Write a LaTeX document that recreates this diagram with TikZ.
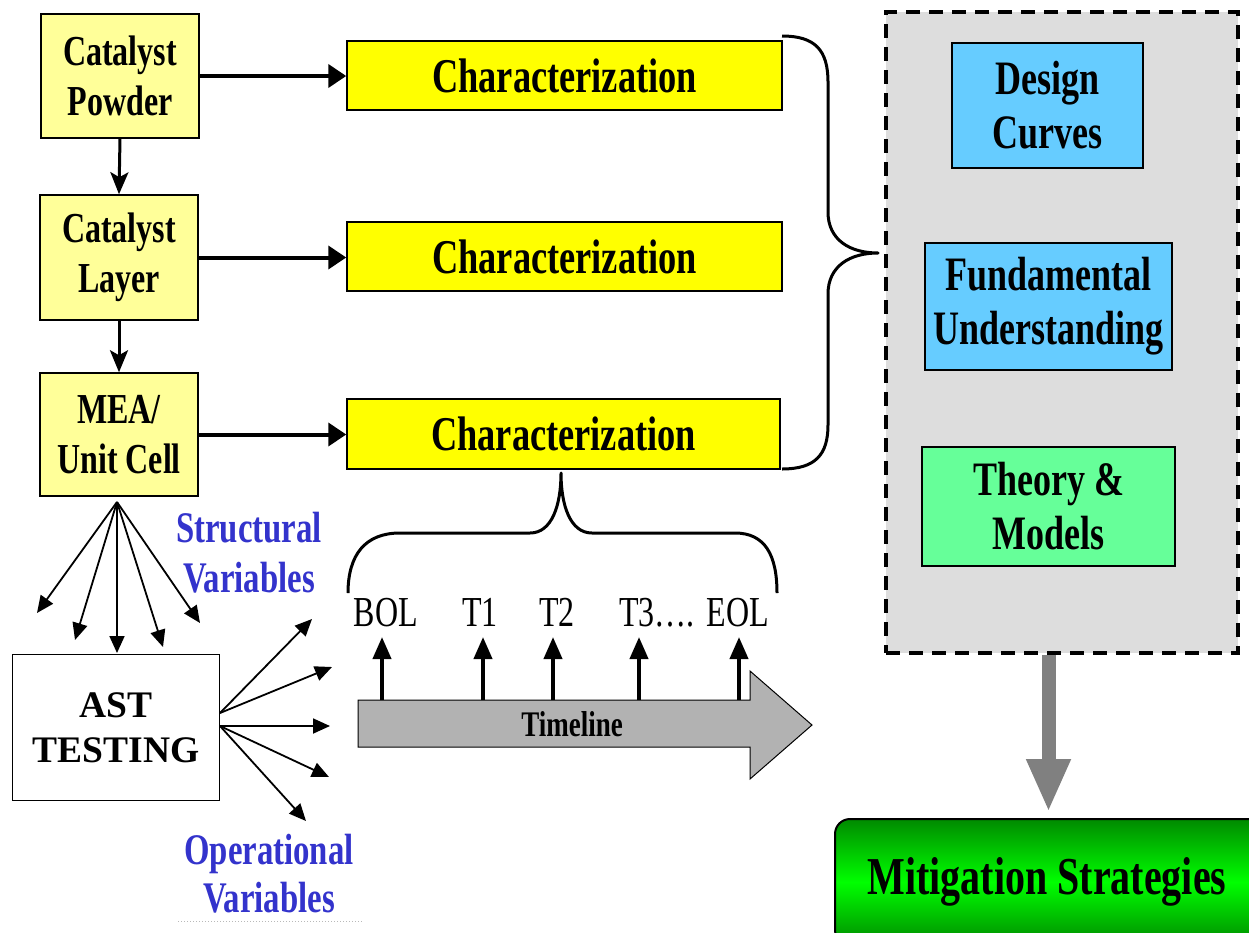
\documentclass[tikz,border=0pt]{standalone}
\usepackage{fontspec}
\setmainfont{Liberation Serif}
\newfontfamily\narrow[FakeStretch=0.75]{Liberation Serif}
\usetikzlibrary{arrows.meta,calc}
\definecolor{paleyellow}{HTML}{FFFF99}
\definecolor{chary}{HTML}{FFFF00}
\definecolor{panelgray}{HTML}{DDDDDD}
\definecolor{skyblue}{HTML}{66CCFF}
\definecolor{mint}{HTML}{66FF99}
\definecolor{timegray}{HTML}{B2B2B2}
\definecolor{bigarrow}{HTML}{808080}
\definecolor{varblue}{HTML}{3333CC}
\definecolor{mdark}{HTML}{008A00}
\definecolor{mbright}{HTML}{00FF00}
\begin{document}
\begin{tikzpicture}[x=1pt,y=-1pt,
  srcbox/.style={draw=black, line width=1.5pt, fill=paleyellow, inner sep=0pt,
    align=center, font=\narrow\bfseries\fontsize{42.7}{50}\selectfont},
  charbox/.style={draw=black, line width=1.5pt, fill=chary, inner sep=0pt,
    minimum width=435pt, minimum height=69pt,
    font=\narrow\bfseries\fontsize{48.5}{54}\selectfont},
  resbox/.style={draw=black, line width=1.5pt, inner sep=0pt, align=center,
    font=\narrow\bfseries\fontsize{48}{54}\selectfont},
  varlabel/.style={text=varblue, align=center,
    font=\narrow\bfseries\fontsize{43.7}{50}\selectfont},
  tlabel/.style={anchor=south, inner sep=0pt, text depth=10pt,
    font=\narrow\fontsize{42.7}{48}\selectfont},
  mainarrow/.style={line width=4pt, -{Triangle[length=18pt,width=23pt]}},
  downarrow/.style={line width=3pt, -{Stealth[length=22pt,width=18pt,inset=5pt]}},
  fanarrow/.style={line width=1.8pt, -{Triangle[length=17pt,width=15pt]}},
  uparrow/.style={line width=4pt, -{Triangle[length=22pt,width=18pt]}},
  brace/.style={line width=3pt, line join=round}
]
\useasboundingbox (0,0) rectangle (1249,932);

% sample stages
\node[srcbox, minimum width=158pt, minimum height=124pt] (powder) at (120,76) {Catalyst\\Powder};
\node[srcbox, minimum width=158pt, minimum height=125pt] (layer) at (119,257.5) {Catalyst\\Layer};
\node[srcbox, minimum width=158pt, minimum height=123pt] (mea) at (119,434.5) {MEA/\\Unit Cell};

% characterization boxes
\node[charbox] (c1) at (564.5,75.5) {Characterization};
\node[charbox] (c2) at (564.5,256.5) {Characterization};
\node[charbox, minimum width=433pt, minimum height=70pt] (c3) at (563.5,434) {Characterization};

\draw[downarrow] (powder.south) -- (layer.north);
\draw[downarrow] (layer.south) -- (mea.north);
\draw[mainarrow] (powder.east) -- (powder.east -| c1.west);
\draw[mainarrow] (layer.east) -- (layer.east -| c2.west);
\draw[mainarrow] (mea.east) -- (mea.east -| c3.west);

% results panel
\node[draw=black, line width=3.5pt, dash pattern=on 14pt off 9pt, fill=panelgray,
  minimum width=352pt, minimum height=641pt, inner sep=0pt] (panel) at (1062,332.5) {};
\node[resbox, fill=skyblue, minimum width=191pt, minimum height=125pt] (design) at (1047.5,105.5) {Design\\Curves};
\node[resbox, fill=skyblue, minimum width=247pt, minimum height=127pt] (fund) at (1048.5,306.5) {Fundamental\\Understanding};
\node[resbox, fill=mint, minimum width=253pt, minimum height=119pt] (theory) at (1048.5,506.5) {Theory \&\\Models};

% brace gathering the three characterizations
\draw[brace] (782,36) .. controls (815,36) and (828,50) .. (828,82) -- (828,212)
  .. controls (828,240) and (850,253) .. (878,253)
  .. controls (850,253) and (828,266) .. (828,294) -- (828,425)
  .. controls (828,455) and (815,469) .. (782,469);

% mitigation
\node[draw=black, line width=2pt, rounded corners=15pt, top color=mdark, bottom color=mdark,
  middle color=mbright, minimum width=430pt, minimum height=126pt, inner sep=0pt,
  font=\narrow\bfseries\fontsize{53.3}{60}\selectfont] (mit) at (1050,882)
  {\hspace*{-6pt}Mitigation Strategies};
\draw[line width=14pt, draw=bigarrow, shorten >=6pt,
  -{Triangle[length=53pt,width=41pt]}] ([xshift=-13.5pt]panel.south) -- ([xshift=-13.5pt]panel.south |- mit.north);

% accelerated stress testing
\node[draw=black, line width=1.5pt, fill=white, minimum width=207pt, minimum height=146pt,
  align=center, font=\bfseries\fontsize{37.5}{45}\selectfont] (ast) at (116,727.5) {AST\\TESTING};

\coordinate (fo) at (117,502);
\coordinate (s1) at (37,613);
\coordinate (s2) at (75,640);
\coordinate (s3) at (117,653);
\coordinate (s4) at (163,647);
\coordinate (s5) at (200,623);
\foreach \e in {s1,s2,s3,s4,s5} \draw[fanarrow] (fo) -- (\e);

\coordinate (ou) at (220,713);
\coordinate (od) at (220,726);
\coordinate (o1) at (312,619);
\coordinate (o2) at (332,667);
\coordinate (o3) at (330,726);
\coordinate (o4) at (329,777);
\coordinate (o5) at (306,821);
\draw[fanarrow] (ou) -- (o1);
\draw[fanarrow] (ou) -- (o2);
\draw[fanarrow] (od) -- (o3);
\draw[fanarrow] (od) -- (o4);
\draw[fanarrow] (od) -- (o5);

\node[varlabel] (sv) at (249,553) {Structural\\Variables};
\node[varlabel, font=\narrow\bfseries\fontsize{43.7}{48}\selectfont] (ov) at (269,874) {Operational\\Variables};
\draw[gray!55, dotted, line width=1pt] (178,921) -- (362,921);

% timeline
\draw[black, line width=1pt, fill=timegray]
  (358,700) -- (750,700) -- (750,671) -- (812,725) -- (750,779) -- (750,747) -- (358,747) -- cycle;
\node[font=\narrow\bfseries\fontsize{36}{40}\selectfont] (tl) at (572,724) {Timeline};

\node[tlabel] (bol) at (386,637) {BOL};
\node[tlabel] (t1) at (480,637) {T1};
\node[tlabel] (t2) at (557,637) {T2};
\node[tlabel] (t3) at (657,637) {T3\dots.};
\node[tlabel] (eol) at (738,637) {EOL};
\coordinate (a1) at (382,700);
\coordinate (a2) at (483,700);
\coordinate (a3) at (553,700);
\coordinate (a4) at (639,700);
\coordinate (a5) at (739,700);
\draw[uparrow] (a1) -- (a1 |- bol.south);
\draw[uparrow] (a2) -- (a2 |- t1.south);
\draw[uparrow] (a3) -- (a3 |- t2.south);
\draw[uparrow] (a4) -- (a4 |- t3.south);
\draw[uparrow] (a5) -- (a5 |- eol.south);

% brace over the sampling points
\draw[brace] (348,593) .. controls (348,555) and (365,533) .. (400,533) -- (530,533)
  .. controls (552,533) and (561,505) .. (561,473)
  .. controls (561,505) and (570,533) .. (592,533) -- (735,533)
  .. controls (765,533) and (777,555) .. (777,593);
\end{tikzpicture}
\end{document}
